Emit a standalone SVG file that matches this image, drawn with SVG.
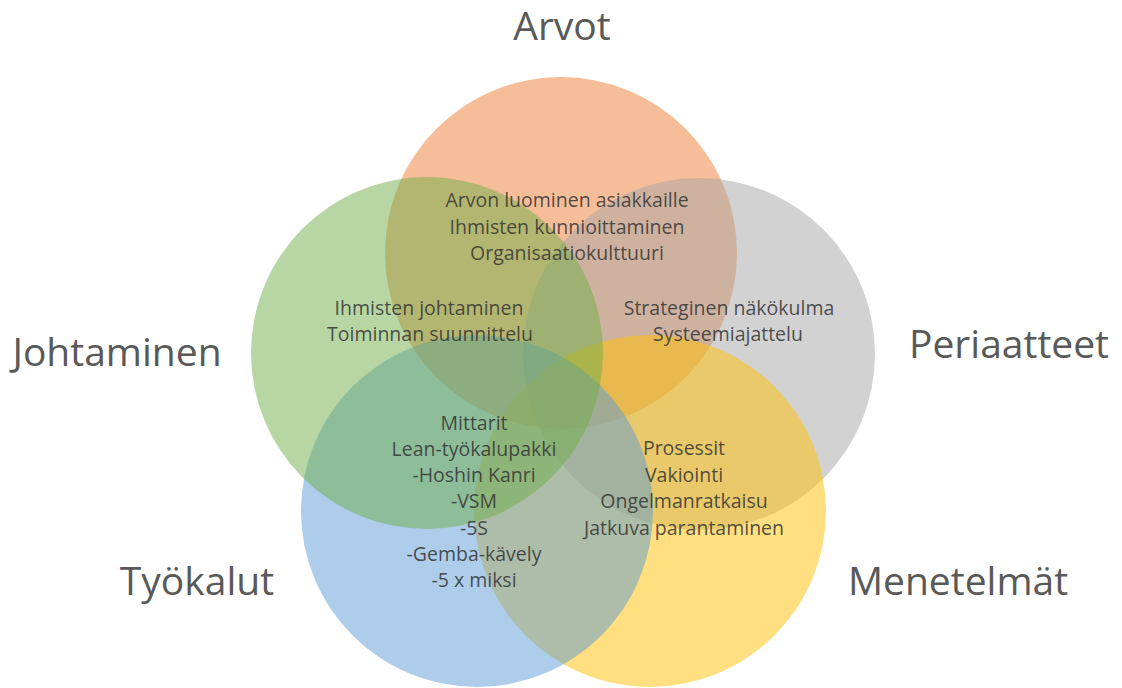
<svg xmlns="http://www.w3.org/2000/svg" width="1122" height="688" viewBox="0 0 1122 688">
  <style>
    .ring { stroke: none; }
    .arvot { fill: #ED7D31; fill-opacity: 0.5; }
    .periaatteet { fill: #A5A5A5; fill-opacity: 0.5; }
    .menetelmat { fill: #FFC000; fill-opacity: 0.5; }
    .tyokalut { fill: #5B9BD5; fill-opacity: 0.5; }
    .johtaminen { fill: #70AD47; fill-opacity: 0.5; }
    .title { font-family: "Open Sans", "Noto Sans", "Liberation Sans", sans-serif; font-size: 39px; fill: #595959; text-anchor: middle; }
    .item { font-family: "Open Sans", "Noto Sans", "Liberation Sans", sans-serif; font-size: 19.5px; fill: #333333; fill-opacity: 0.85; text-anchor: middle; }
  </style>

  <rect width="1122" height="688" fill="#FFFFFF"/>

  <!-- Overlapping circles of the five-set Venn -->
  <g id="set-arvot">
    <circle class="ring arvot" cx="561" cy="253" r="176"/>
  </g>
  <g id="set-periaatteet">
    <circle class="ring periaatteet" cx="699" cy="354" r="176"/>
  </g>
  <g id="set-menetelmat">
    <circle class="ring menetelmat" cx="650" cy="511" r="176"/>
  </g>
  <g id="set-tyokalut">
    <circle class="ring tyokalut" cx="477" cy="511" r="176"/>
  </g>
  <g id="set-johtaminen">
    <circle class="ring johtaminen" cx="427" cy="353" r="176"/>
  </g>

  <!-- Set titles -->
  <g id="titles">
    <text class="title" x="562" y="40">Arvot</text>
    <text class="title" x="117" y="366">Johtaminen</text>
    <text class="title" x="1009" y="358">Periaatteet</text>
    <text class="title" x="197" y="595">Työkalut</text>
    <text class="title" x="958" y="595">Menetelmät</text>
  </g>

  <!-- Contents of the overlap areas -->
  <g id="text-arvot">
    <text class="item" x="567" y="207">Arvon luominen asiakkaille</text>
    <text class="item" x="567" y="234">Ihmisten kunnioittaminen</text>
    <text class="item" x="567" y="260">Organisaatiokulttuuri</text>
  </g>
  <g id="text-johtaminen">
    <text class="item" x="429" y="315">Ihmisten johtaminen</text>
    <text class="item" x="430" y="341">Toiminnan suunnittelu</text>
  </g>
  <g id="text-periaatteet">
    <text class="item" x="729" y="315">Strateginen näkökulma</text>
    <text class="item" x="728" y="341">Systeemiajattelu</text>
  </g>
  <g id="text-tyokalut">
    <text class="item" x="474" y="430">Mittarit</text>
    <text class="item" x="474" y="456">Lean-työkalupakki</text>
    <text class="item" x="474" y="482">-Hoshin Kanri</text>
    <text class="item" x="474" y="508">-VSM</text>
    <text class="item" x="474" y="535">-5S</text>
    <text class="item" x="474" y="561">-Gemba-kävely</text>
    <text class="item" x="474" y="587">-5 x miksi</text>
  </g>
  <g id="text-menetelmat">
    <text class="item" x="684" y="455">Prosessit</text>
    <text class="item" x="684" y="482">Vakiointi</text>
    <text class="item" x="684" y="508">Ongelmanratkaisu</text>
    <text class="item" x="684" y="535">Jatkuva parantaminen</text>
  </g>

  <!-- No connectors in this diagram -->
  <g id="connectors"/>
</svg>
